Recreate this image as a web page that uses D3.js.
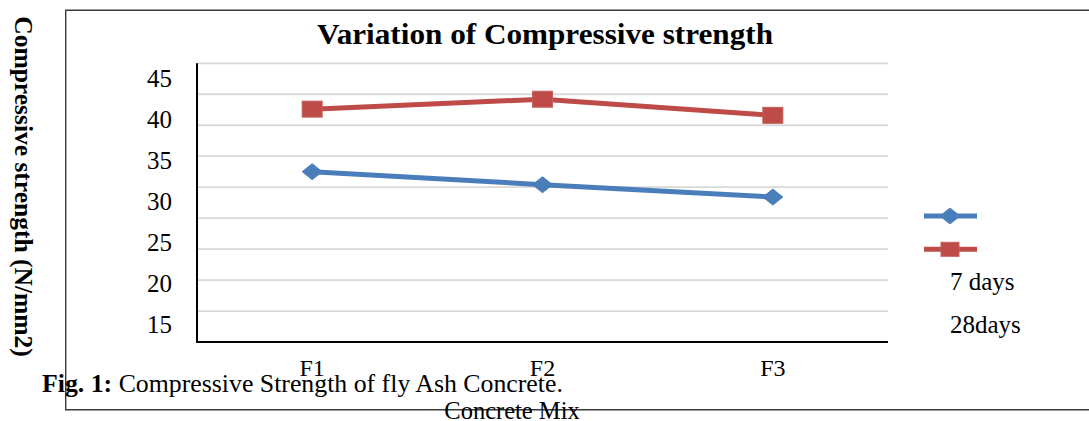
<!DOCTYPE html>
<html>
<head>
<meta charset="utf-8">
<script src="https://cdn.jsdelivr.net/npm/d3@7"></script>
<style>
  html, body { margin: 0; padding: 0; background: #fff; }
  svg { display: block; }
  text { font-family: "Liberation Serif", "Times New Roman", serif; fill: #000; }
</style>
</head>
<body>
<svg id="chart" width="1089" height="421"></svg>
<script>
// ---- data ----
const categories = ["F1", "F2", "F3"];
const sevenDays = [27.5, 25.4, 23.4];
const twentyEightDays = [37.6, 39.2, 36.6];
const seriesNames = ["7 days", "28days"];
const yTickLabels = ["45", "40", "35", "30", "25", "20", "15"];
const gridValues = [5, 10, 15, 20, 25, 30, 35, 40, 45];
const titleText = "Variation of Compressive strength";
const yTitle = "Compressive strength (N/mm2)";
const xTitle = "Concrete Mix";
const captionBold = "Fig. 1:";
const captionText = " Compressive Strength of fly Ash Concrete.";

// ---- layout ----
const svg = d3.select("#chart");
const plot = { left: 197, right: 888, top: 63.3, bottom: 342 };
const colors = ["#4a7ebb", "#be4b48"];

const x = d3.scaleBand().domain(categories).range([plot.left, plot.right]);
const y = d3.scaleLinear().domain([0, 45]).range([plot.bottom, plot.top]);
const yLabelPos = d3.scalePoint().domain(yTickLabels).range([87.3, 333.3]);

// outer frame (right edge off canvas)
svg.append("path")
  .attr("d", "M1100,10.3 H65.7 V409.7 H1100")
  .attr("fill", "none").attr("stroke", "#3a3a3a").attr("stroke-width", 1.4);

// gridlines
svg.append("g").selectAll("line").data(gridValues).join("line")
  .attr("x1", plot.left).attr("x2", plot.right)
  .attr("y1", d => y(d)).attr("y2", d => y(d))
  .attr("stroke", "#d9d9d9").attr("stroke-width", 1.8);

// axes lines
svg.append("line").attr("x1", plot.left).attr("x2", plot.left)
  .attr("y1", plot.top).attr("y2", plot.bottom + 1)
  .attr("stroke", "#000").attr("stroke-width", 2);
svg.append("line").attr("x1", plot.left - 1).attr("x2", plot.right)
  .attr("y1", plot.bottom).attr("y2", plot.bottom)
  .attr("stroke", "#000").attr("stroke-width", 2.2);

// y tick labels
svg.append("g").selectAll("text").data(yTickLabels).join("text")
  .attr("x", 172).attr("y", d => yLabelPos(d))
  .attr("text-anchor", "end").attr("font-size", 25)
  .text(d => d);

// x category labels
svg.append("g").selectAll("text").data(categories).join("text")
  .attr("x", d => x(d) + x.bandwidth() / 2).attr("y", 376)
  .attr("text-anchor", "middle").attr("font-size", 24)
  .text(d => d);

// series
const series = [sevenDays, twentyEightDays];
const line = d3.line()
  .x((d, i) => x(categories[i]) + x.bandwidth() / 2)
  .y(d => y(d));

series.forEach((vals, si) => {
  svg.append("path").datum(vals)
    .attr("d", line).attr("fill", "none")
    .attr("stroke", colors[si]).attr("stroke-width", 5)
    .attr("stroke-linejoin", "round");
});

function diamond(g, cx, cy, c) {
  g.append("path")
    .attr("d", `M${cx - 10},${cy} L${cx},${cy - 8} L${cx + 10},${cy} L${cx},${cy + 8} Z`)
    .attr("fill", c).attr("stroke", c).attr("stroke-width", 1);
}
function square(g, cx, cy, c) {
  g.append("rect").attr("x", cx - 10).attr("y", cy - 8)
    .attr("width", 20).attr("height", 16)
    .attr("fill", c).attr("stroke", "#c4605d").attr("stroke-width", 1);
}

const markers = svg.append("g");
sevenDays.forEach((v, i) => diamond(markers, x(categories[i]) + x.bandwidth() / 2, y(v), colors[0]));
twentyEightDays.forEach((v, i) => square(markers, x(categories[i]) + x.bandwidth() / 2, y(v), colors[1]));

// legend
const leg = svg.append("g");
const legY = [216, 249.3];
legY.forEach((ly, i) => {
  leg.append("line").attr("x1", 924).attr("x2", 977).attr("y1", ly).attr("y2", ly)
    .attr("stroke", colors[i]).attr("stroke-width", 5);
});
diamond(leg, 950, legY[0], colors[0]);
leg.append("rect").attr("x", 941).attr("y", legY[1] - 7).attr("width", 18).attr("height", 14)
  .attr("fill", colors[1]).attr("stroke", "#c4605d").attr("stroke-width", 1);
const legTextY = [290, 333.3];
seriesNames.forEach((n, i) => {
  leg.append("text").attr("x", 950).attr("y", legTextY[i])
    .attr("font-size", 25).text(n);
});

// title
svg.append("text").attr("x", 545).attr("y", 43.5)
  .attr("text-anchor", "middle").attr("font-size", 28.5).attr("font-weight", "bold")
  .attr("textLength", 456).attr("lengthAdjust", "spacingAndGlyphs")
  .text(titleText);

// y axis title
svg.append("text")
  .attr("transform", "translate(15,186.5) rotate(90)")
  .attr("text-anchor", "middle").attr("font-size", 25.5).attr("font-weight", "bold")
  .text(yTitle);

// x axis title
svg.append("text").attr("x", 512).attr("y", 419)
  .attr("text-anchor", "middle").attr("font-size", 24.5)
  .text(xTitle);

// caption
const cap = svg.append("text").attr("x", 42).attr("y", 391.7).attr("font-size", 25.8);
cap.append("tspan").attr("font-weight", "bold").text(captionBold);
cap.append("tspan").text(captionText);
</script>
</body>
</html>
